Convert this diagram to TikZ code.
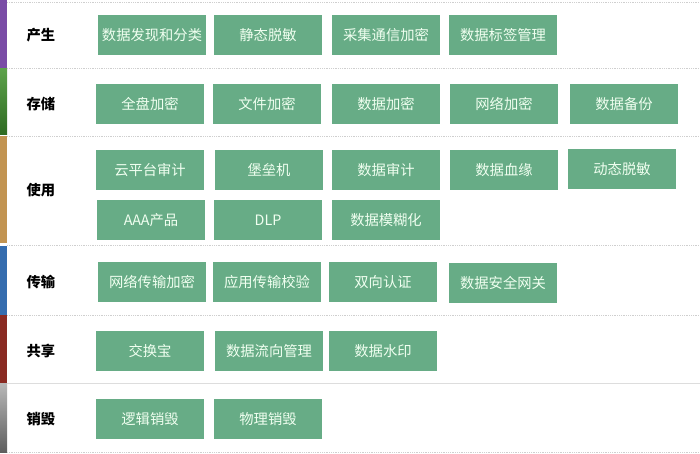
\documentclass[tikz,border=0pt]{standalone}
\usepackage{fontspec}
\setmainfont{Noto Sans CJK SC}
\usetikzlibrary{positioning}

\definecolor{boxgreen}{HTML}{67AC86}
\definecolor{barpurple}{HTML}{7A4CA6}
\definecolor{bargreenA}{HTML}{5CA24A}
\definecolor{bargreenB}{HTML}{2E6A22}
\definecolor{bartan}{HTML}{C29452}
\definecolor{barblue}{HTML}{356DAF}
\definecolor{barred}{HTML}{8A2A22}
\definecolor{bargreyA}{HTML}{B8B8B8}
\definecolor{bargreyB}{HTML}{5E5E5E}
\definecolor{sepgrey}{HTML}{CFCFCF}

\tikzset{
  item/.style={fill=boxgreen, text=white!94!green, minimum width=108pt,
    minimum height=40pt, inner sep=0pt, font=\fontsize{14.3}{16}\selectfont},
  stage/.style={font=\fontsize{14.3}{16}\selectfont\bfseries, anchor=west},
  sep/.style={sepgrey, densely dotted, line width=0.8pt}
}

\begin{document}
\begin{tikzpicture}[x=1pt, y=-1pt]
  \useasboundingbox (0,0) rectangle (700,454);

  % colour bars
  \fill[barpurple] (0,0) rectangle (7,69);
  \shade[top color=bargreenA, bottom color=bargreenB] (0,69) rectangle (7,135);
  \fill[bartan] (0,136) rectangle (7,243);
  \fill[barblue] (0,246) rectangle (7,315);
  \fill[barred] (0,315) rectangle (7,383);
  \shade[top color=bargreyA, bottom color=bargreyB] (0,383) rectangle (7,452);

  % separators
  \draw[sep] (7,2) -- (700,2);
  \draw[sep] (7,68) -- (700,68);
  \draw[sep] (7,136) -- (700,136);
  \draw[sep] (7,245) -- (700,245);
  \draw[sep] (7,315) -- (700,315);
  \draw[sepgrey!70, line width=1pt] (7,383) -- (700,383);
  \draw[sep] (7,452) -- (700,452);

  % stages
  \node[stage] (gen) at (23,35) {产生};
  \node[stage] (store) at (23,104) {存储};
  \node[stage] (use) at (23,190) {使用};
  \node[stage] (trans) at (23,282) {传输};
  \node[stage] (share) at (23,351) {共享};
  \node[stage] (destroy) at (23,419) {销毁};

  % 产生
  \node[item] (gen1) at (152,35) {数据发现和分类};
  \node[item] (gen2) at (268,35) {静态脱敏};
  \node[item] (gen3) at (386,35) {采集通信加密};
  \node[item] (gen4) at (503,35) {数据标签管理};

  % 存储
  \node[item] (store1) at (150,104) {全盘加密};
  \node[item] (store2) at (267,104) {文件加密};
  \node[item] (store3) at (386,104) {数据加密};
  \node[item] (store4) at (504,104) {网络加密};
  \node[item] (store5) at (624,104) {数据备份};

  % 使用
  \node[item] (use1) at (150,170) {云平台审计};
  \node[item] (use2) at (269,170) {堡垒机};
  \node[item] (use3) at (386,170) {数据审计};
  \node[item] (use4) at (504,170) {数据血缘};
  \node[item] (use5) at (622,169) {动态脱敏};
  \node[item] (use6) at (151,220) {AAA产品};
  \node[item] (use7) at (268,220) {DLP};
  \node[item] (use8) at (386,220) {数据模糊化};

  % 传输
  \node[item] (trans1) at (152,282) {网络传输加密};
  \node[item] (trans2) at (267,282) {应用传输校验};
  \node[item] (trans3) at (383,282) {双向认证};
  \node[item] (trans4) at (503,283) {数据安全网关};

  % 共享
  \node[item] (share1) at (150,351) {交换宝};
  \node[item] (share2) at (269,351) {数据流向管理};
  \node[item] (share3) at (383,351) {数据水印};

  % 销毁
  \node[item] (destroy1) at (150,419) {逻辑销毁};
  \node[item] (destroy2) at (268,419) {物理销毁};
\end{tikzpicture}
\end{document}
